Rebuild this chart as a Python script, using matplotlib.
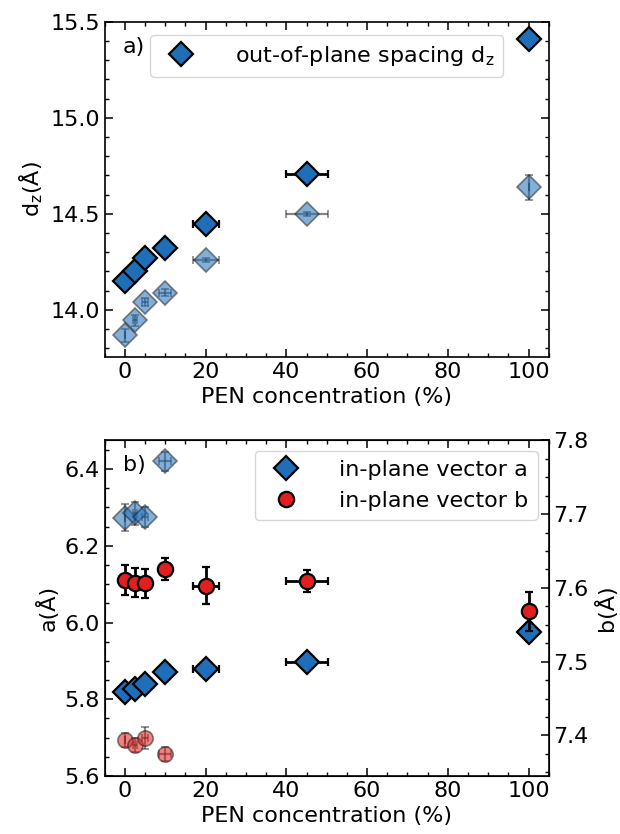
import matplotlib
matplotlib.use("Agg")
import matplotlib.pyplot as plt
from matplotlib.ticker import MultipleLocator

plt.rcParams['font.family'] = ['DejaVu Sans']
plt.rcParams['mathtext.default'] = 'regular'

# ---- data ----
conc = [0, 2.5, 5, 10, 20, 45, 100]
conc_err = [0, 0.4, 0.8, 1.5, 3.2, 5.2, 0]
conc_small = [0, 2.5, 5, 10]
conc_small_err = [0, 0.4, 0.8, 1.5]

dz = [14.152, 14.204, 14.27, 14.32, 14.445, 14.705, 15.41]
dz_err = [0.02, 0.02, 0.02, 0.02, 0.02, 0.02, 0.02]
dz_light = [13.867, 13.945, 14.04, 14.09, 14.26, 14.50, 14.637]
dz_light_err = [0.035, 0.03, 0.02, 0.02, 0.01, 0.01, 0.065]

a_vec = [5.819, 5.826, 5.839, 5.870, 5.880, 5.897, 5.976]
a_vec_err = [0.01, 0.01, 0.01, 0.01, 0.01, 0.01, 0.024]
a_light = [6.273, 6.285, 6.275, 6.42]
a_light_err = [0.035, 0.03, 0.025, 0.025]

b_vec = [7.611, 7.607, 7.606, 7.626, 7.603, 7.609, 7.568]
b_vec_err = [0.02, 0.02, 0.02, 0.015, 0.025, 0.015, 0.026]
b_light = [7.394, 7.387, 7.397, 7.375]
b_light_err = [0.01, 0.01, 0.015, 0.01]

blue = '#1f6fb8'
red = '#e0201e'
FS = 16

fig = plt.figure(figsize=(6.2, 8.34), dpi=100)
ax1 = fig.add_axes([0.169, 0.572, 0.716, 0.402])
ax2 = fig.add_axes([0.169, 0.0695, 0.716, 0.403])

def style(ax, ymaj, ymin, right=True):
    ax.xaxis.set_major_locator(MultipleLocator(20))
    ax.xaxis.set_minor_locator(MultipleLocator(5))
    ax.yaxis.set_major_locator(MultipleLocator(ymaj))
    ax.yaxis.set_minor_locator(MultipleLocator(ymin))
    ax.tick_params(which='both', direction='in', top=True, right=right, labelsize=FS)
    ax.tick_params(which='major', length=5.5, width=1.1)
    ax.tick_params(which='minor', length=2.8, width=1.0)
    for s in ax.spines.values():
        s.set_linewidth(1.2)

dark_kw = dict(fmt='D', ms=12, mfc=blue, mec='black', mew=1.6, ecolor='black',
               elinewidth=2, capsize=3, capthick=1.5, zorder=3)
light_kw = dict(fmt='D', ms=12, mfc=blue, mec='#222222', mew=1.2, ecolor='#222222',
                elinewidth=1.6, capsize=3, capthick=1.3, alpha=0.55, zorder=2)

# ---- panel a ----
ax1.errorbar(conc, dz_light, yerr=dz_light_err, xerr=conc_err, **light_kw)
h1 = ax1.errorbar(conc, dz, yerr=dz_err, xerr=conc_err, **dark_kw)
ax1.set_xlim(-5, 105)
ax1.set_ylim(13.755, 15.5)
style(ax1, 0.5, 0.1)
ax1.set_xlabel('PEN concentration (%)', fontsize=FS)
ax1.set_ylabel('d$_{z}$(Å)', fontsize=FS)
ax1.text(0.04, 0.925, 'a)', transform=ax1.transAxes, fontsize=FS, va='center')
ax1.legend([h1[0]], ['out-of-plane spacing d$_{z}$'], loc='upper center',
           fontsize=FS, handletextpad=1.4, numpoints=1, borderaxespad=0.6)

# ---- panel b ----
ax2.errorbar(conc_small, a_light, yerr=a_light_err, xerr=conc_small_err, **light_kw)
ha = ax2.errorbar(conc, a_vec, yerr=a_vec_err, xerr=conc_err, **dark_kw)
ax2.set_xlim(-5, 105)
ax2.set_ylim(5.6, 6.476)
style(ax2, 0.2, 0.05, right=False)
ax2.set_xlabel('PEN concentration (%)', fontsize=FS)
ax2.set_ylabel('a(Å)', fontsize=FS)
ax2.text(0.04, 0.925, 'b)', transform=ax2.transAxes, fontsize=FS, va='center')

ax3 = ax2.twinx()
red_dark = dict(dark_kw); red_dark.update(fmt='o', ms=11, mfc=red)
red_light = dict(light_kw); red_light.update(fmt='o', ms=11, mfc=red)
ax3.errorbar(conc_small, b_light, yerr=b_light_err, xerr=conc_small_err, **red_light)
hb = ax3.errorbar(conc, b_vec, yerr=b_vec_err, xerr=conc_err, **red_dark)
ax3.set_ylim(7.345, 7.8005)
ax3.yaxis.set_major_locator(MultipleLocator(0.1))
ax3.yaxis.set_minor_locator(MultipleLocator(0.025))
ax3.tick_params(which='both', direction='in', labelsize=FS)
ax3.tick_params(which='major', length=5.5, width=1.1)
ax3.tick_params(which='minor', length=2.8, width=1.0)
ax3.set_ylabel('b(Å)', fontsize=FS)
ax3.legend([ha[0], hb[0]], ['in-plane vector a', 'in-plane vector b'],
           loc='upper right', fontsize=FS, handletextpad=1.4, numpoints=1)

fig.savefig('out.png', dpi=100)
